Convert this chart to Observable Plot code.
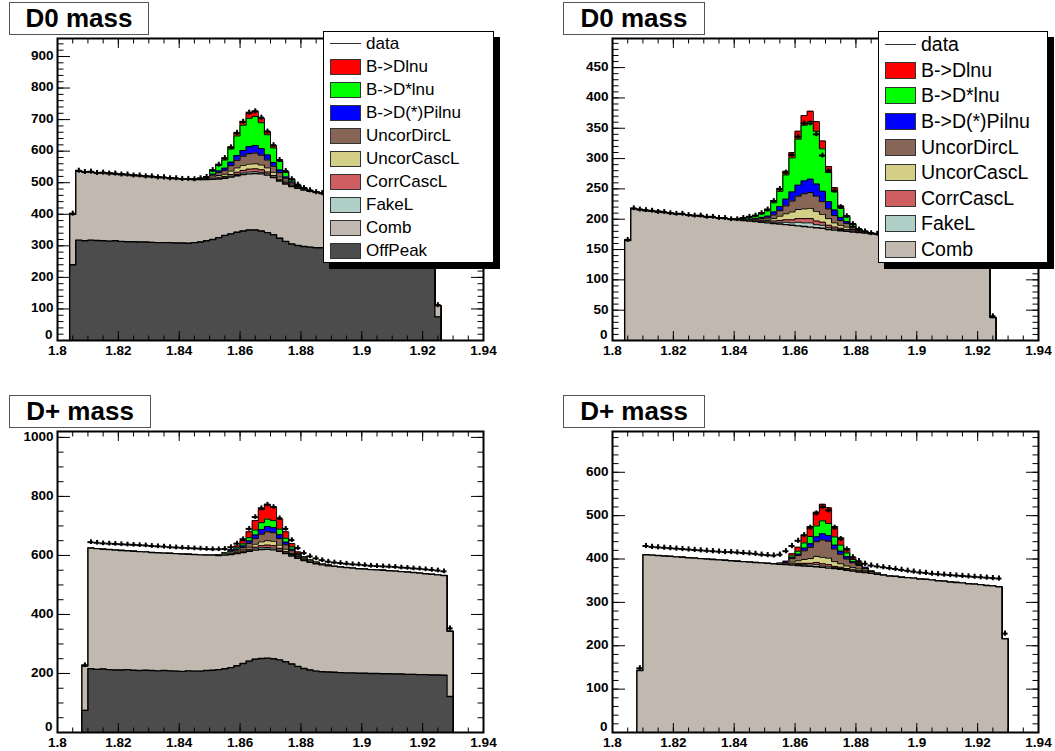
<!DOCTYPE html>
<html><head><meta charset="utf-8">
<script src="https://cdn.jsdelivr.net/npm/d3@7"></script>
<script src="https://cdn.jsdelivr.net/npm/@observablehq/plot@0.6"></script>
<style>
body{margin:0;background:#fff;font-family:"Liberation Sans",Arial,sans-serif;}
#wrap{position:relative;width:1055px;height:751px;overflow:hidden;background:#fff;}
.panel{position:absolute;}
.title{position:absolute;border:1px solid #555;background:#fff;font-weight:bold;font-size:26px;text-align:center;box-sizing:border-box;line-height:31px;z-index:3;}
.legend{position:absolute;border:1px solid #000;background:#fff;box-shadow:6px 6px 0 #000;box-sizing:border-box;display:flex;flex-direction:column;z-index:3;}
.legend .row{flex:1;display:flex;align-items:center;white-space:nowrap;}
.sw{width:31px;height:16px;border:1px solid #333;box-sizing:border-box;margin-left:6px;margin-right:5px;flex:none;}
.ln{width:31px;height:0;border-top:1px solid #333;margin-left:6px;margin-right:5px;flex:none;}
</style></head><body><div id="wrap"></div>
<script>
// ---------- shared axis data ----------
const xTicks = [1.8, 1.82, 1.84, 1.86, 1.88, 1.9, 1.92, 1.94];
const xTickLabels = ["1.8", "1.82", "1.84", "1.86", "1.88", "1.9", "1.92", "1.94"];
const xMinorStep = 0.005;
const binWidth = 0.002;
const d0Start = 1.804;
const dpStart = 1.808;

const legendNames = ["data", "B->Dlnu", "B->D*lnu", "B->D(*)Pilnu", "UncorDircL", "UncorCascL", "CorrCascL", "FakeL", "Comb", "OffPeak"];
const colors = {
  "B->Dlnu": "#ff0000", "B->D*lnu": "#00ff00", "B->D(*)Pilnu": "#0000ff",
  "UncorDircL": "#876657", "UncorCascL": "#d4cf87", "CorrCascL": "#cf5e61",
  "FakeL": "#b0cfc7", "Comb": "#c1b9af", "OffPeak": "#4c4c4c"
};

// ---------- Panel A: D0 mass (with OffPeak) ----------
const d0aOffPeak = [240,
 318,316,318,317,316, 315,316,314,313,313, 312,312,311,310,310, 310,309,309,308,310,
 312,316,320,326,333, 338,343,347,350,350, 347,342,335,324,314, 306,301,298,296,294,
 294,293,291,290,289, 288,287,287,286,286, 285,285,284,284,283, 283,282,282,281, 75];
const d0aComb = [160,
 219,219,216,215,215, 215,212,213,212,211, 210,209,208,208,206, 205,204,203,203,200,
 198,194,191,186,181, 180,179,179,178,179, 181,182,181,181,182, 182,181,179,177,176,
 172,170,170,169,168, 167,166,164,164,162, 162,160,160,158,158, 157,156,155,155, 36];
const d0aSigFrom = 20;
const d0aDlnu      = [0,0,1,2,3,4,6,9,12,15,17,15,11,8,5,3,2,1,0,0,0];
const d0aDstlnu    = [1,1,3,10,18,26,42,62,80,90,92,82,64,46,28,15,8,3,2,1,0];
const d0aDpilnu    = [0,0,1,3,5,7,11,15,18,22,24,21,16,12,8,4,3,1,1,0,0];
const d0aUncorDirc = [1,1,2,6,9,12,17,24,29,33,34,31,25,19,14,9,6,3,2,1,1];
const d0aUncorCasc = [0,1,1,4,6,7,11,14,16,16,16,15,13,10,7,5,3,2,1,0,0];
const d0aCorrCasc  = [0,0,0,2,3,4,5,7,8,9,9,8,6,5,4,3,1,1,1,0,0];
const d0aFake      = [0,0,0,1,2,2,3,4,5,6,6,5,4,2,2,1,1,0,0,0,0];
const d0aData = [402,
 538,534,535,531,532, 529,529,526,526,523, 523,520,520,517,517, 514,514,512,512,511,
 514,518,540,557,578, 612,658,693,722,726, 706,662,619,572,537, 511,494,483,476,470,
 467,463,462,458,458, 455,454,451,451,448, 448,445,445,442,442, 440,439,437,437, 112];
const d0aYTicks = [0,100,200,300,400,500,600,700,800,900];

// ---------- Panel B: D0 mass (no OffPeak) ----------
const d0bComb = [165,
 217,216,214,213,213, 211,210,209,208,207, 206,205,204,203,202, 201,200,199,198,197,
 196,195,194,193,192, 191,190,189,188,187, 186,185,183,182,181, 180,179,178,177,176,
 175,174,173,172,171, 170,169,168,167,166, 165,164,163,162,161, 160,159,158,157, 38];
const d0bSigFrom = 18;
const d0bDlnu      = [0,0,1,1,1,2,3,4,6,9,13,16,17,16,13,10,7,4,2,1,0,0,0];
const d0bDstlnu    = [1,2,3,4,6,9,15,25,40,56,76,92,95,87,70,48,30,15,8,4,2,1,0];
const d0bDpilnu    = [0,0,1,1,2,3,5,7,11,15,18,21,22,20,17,12,9,5,3,2,1,0,0];
const d0bUncorDirc = [1,1,1,2,3,4,6,9,13,18,22,25,26,25,21,16,12,8,6,3,1,1,1];
const d0bUncorCasc = [0,1,1,1,2,2,4,7,10,13,15,16,17,16,13,11,7,5,4,2,1,1,0];
const d0bCorrCasc  = [0,0,0,1,1,1,2,3,4,5,6,7,7,6,5,4,3,2,2,1,1,0,0];
const d0bFake      = [0,0,0,0,0,1,2,3,4,4,6,6,7,5,5,3,2,2,1,1,0,0,0];
const d0bData = [166,
 218,216,215,214,212, 212,210,209,209,207, 206,206,204,204,202, 202,200,200,202,204,
 206,210,216,230,250, 277,306,336,358,358, 340,305,280,247,220, 205,192,183,180,177,
 176,174,173,172,171, 170,169,168,167,166, 165,164,163,162,161, 160,159,158,157, 40];
const d0bYTicks = [0,50,100,150,200,250,300,350,400,450];

// ---------- Panel C: D+ mass (with OffPeak) ----------
const dpaOffPeak = [75,
 216,214,215,213,212, 212,213,211,210,211, 210,209,210,209,208, 207,209,208,208,210,
 211,213,216,220,226, 234,242,248,251,252, 250,246,240,232,224, 217,212,208,206,205,
 204,203,202,202,201, 201,200,200,199,199, 198,198,197,197,196, 196,195,195,194, 122];
const dpaComb = [150,
 409,409,406,407,406, 405,403,403,403,401, 400,400,398,398,398, 398,395,395,394,391,
 390,387,385,383,380, 376,372,370,369,369, 369,368,366,366,366, 366,365,364,362,360,
 359,358,357,355,354, 353,352,351,351,349, 349,347,347,345,344, 342,341,339,338, 221];
const dpaSigFrom = 22;
const dpaDlnu      = [0,1,3,6,11,20,32,44,50,47,35,22,11,5,2,1,1,0,0];
const dpaDstlnu    = [1,2,3,5,7,11,17,23,25,24,19,13,8,4,2,1,1,1,0];
const dpaDpilnu    = [0,1,2,3,5,8,12,16,18,17,13,9,5,2,1,1,0,0,0];
const dpaUncorDirc = [1,2,4,6,8,13,19,26,30,29,22,15,9,5,3,2,2,1,1];
const dpaUncorCasc = [1,1,2,3,4,7,10,13,15,15,11,8,4,3,2,1,1,1,1];
const dpaCorrCasc  = [0,1,1,2,3,4,6,7,8,8,6,4,3,2,2,1,1,1,1];
const dpaFake      = [0,1,2,1,2,3,4,6,6,6,4,3,2,1,1,1,0,0,0];
const dpaData = [228,
 645,643,641,640,639, 638,637,636,635,634, 632,631,630,628,627, 626,625,624,623,622,
 621,621,622,628,640, 655,690,730,760,772, 764,726,690,652,625, 608,597,590,584,579,
 576,574,572,570,569, 567,565,564,563,562, 561,559,558,556,555, 553,551,549,546, 353];
const dpaYTicks = [0,200,400,600,800,1000];

// ---------- Panel D: D+ mass (no OffPeak) ----------
const dpbComb = [143,
 410,409,408,407,406, 405,404,403,402,401, 400,399,398,397,396, 395,394,393,392,391,
 390,389,388,387,386, 385,384,383,382,381, 379,378,376,374,372, 370,369,367,365,363,
 361,360,358,357,356, 354,353,352,350,349, 347,346,345,343,342, 341,339,338,336, 216];
const dpbSigFrom = 22;
const dpbDlnu      = [0,0,1,5,9,17,23,32,38,36,24,17,10,5,3,1,1,0,0];
const dpbDstlnu    = [0,0,1,4,7,12,17,25,30,28,19,14,9,5,3,1,1,0,0];
const dpbDpilnu    = [0,0,1,2,3,6,8,11,14,13,9,7,5,3,2,1,0,0,0];
const dpbUncorDirc = [0,1,3,8,12,20,26,34,40,39,29,22,16,11,8,5,2,1,1];
const dpbUncorCasc = [0,1,1,4,6,9,11,14,15,15,11,8,6,5,4,3,1,1,0];
const dpbCorrCasc  = [0,0,1,2,3,3,4,5,5,5,3,3,2,2,2,1,1,1,0];
const dpbFake      = [0,0,0,1,2,3,3,5,3,3,2,2,2,1,1,0,0,0,0];
const dpbData = [148,
 430,428,427,426,425, 424,423,422,421,420, 419,418,417,416,416, 415,414,413,412,410,
 409,408,410,418,430, 442,455,472,505,520, 512,472,446,422,404, 395,389,385,383,381,
 379,377,375,373,371, 369,368,366,365,364, 363,362,361,360,359, 358,357,356,355, 228];
const dpbYTicks = [0,100,200,300,400,500,600];

// ---------- panel configs ----------
const panels = [
  {title: "D0 mass", left: 0, top: 0, width: 527, mL: 57, mR: 44, mT: 38, mB: 35,
   titleBox: [9, 2, 140, 33], legend: [323, 31, 171, 232], legendFont: 17,
   start: d0Start, offPeak: d0aOffPeak, comb: d0aComb, sigFrom: d0aSigFrom,
   sig: {"FakeL": d0aFake, "CorrCascL": d0aCorrCasc, "UncorCascL": d0aUncorCasc, "UncorDircL": d0aUncorDirc,
         "B->D(*)Pilnu": d0aDpilnu, "B->D*lnu": d0aDstlnu, "B->Dlnu": d0aDlnu},
   data: d0aData, err: 8, yMax: 957, yTicks: d0aYTicks, yMinor: 20},
  {title: "D0 mass", left: 527, top: 0, width: 528, mL: 85, mR: 17, mT: 38, mB: 35,
   titleBox: [563, 2, 142, 33], legend: [878, 31, 170, 232], legendFont: 19.5,
   start: d0Start, offPeak: null, comb: d0bComb, sigFrom: d0bSigFrom,
   sig: {"FakeL": d0bFake, "CorrCascL": d0bCorrCasc, "UncorCascL": d0bUncorCasc, "UncorDircL": d0bUncorDirc,
         "B->D(*)Pilnu": d0bDpilnu, "B->D*lnu": d0bDstlnu, "B->Dlnu": d0bDlnu},
   data: d0bData, err: 4, yMax: 498, yTicks: d0bYTicks, yMinor: 10},
  {title: "D+ mass", left: 0, top: 376, width: 527, mL: 57, mR: 44, mT: 55, mB: 19,
   titleBox: [9, 395, 142, 33], legend: null,
   start: dpStart, offPeak: dpaOffPeak, comb: dpaComb, sigFrom: dpaSigFrom,
   sig: {"FakeL": dpaFake, "CorrCascL": dpaCorrCasc, "UncorCascL": dpaUncorCasc, "UncorDircL": dpaUncorDirc,
         "B->D(*)Pilnu": dpaDpilnu, "B->D*lnu": dpaDstlnu, "B->Dlnu": dpaDlnu},
   data: dpaData, err: 8, yMax: 1020, yTicks: dpaYTicks, yMinor: 50},
  {title: "D+ mass", left: 527, top: 376, width: 528, mL: 85, mR: 17, mT: 55, mB: 19,
   titleBox: [563, 395, 142, 33], legend: null,
   start: dpStart, offPeak: null, comb: dpbComb, sigFrom: dpbSigFrom,
   sig: {"FakeL": dpbFake, "CorrCascL": dpbCorrCasc, "UncorCascL": dpbUncorCasc, "UncorDircL": dpbUncorDirc,
         "B->D(*)Pilnu": dpbDpilnu, "B->D*lnu": dpbDstlnu, "B->Dlnu": dpbDlnu},
   data: dpbData, err: 6, yMax: 694, yTicks: dpbYTicks, yMinor: 20}
];

function stepPts(start, vals) {
  const n = vals.length;
  const pts = [{x: start, y: 0}];
  vals.forEach((v, i) => pts.push({x: start + i * binWidth, y: v}));
  pts.push({x: start + n * binWidth, y: vals[n - 1]});
  pts.push({x: start + n * binWidth, y: 0});
  return pts;
}

const wrap = document.getElementById("wrap");
const xMinor = d3.range(1.8, 1.9401, xMinorStep);

panels.forEach(p => {
  const n = p.comb.length;
  const pad = arr => { const out = new Array(n).fill(0); arr.forEach((v, k) => out[p.sigFrom + k] = v); return out; };
  const comps = [];
  if (p.offPeak) comps.push(["OffPeak", p.offPeak]);
  comps.push(["Comb", p.comb]);
  ["FakeL", "CorrCascL", "UncorCascL", "UncorDircL", "B->D(*)Pilnu", "B->D*lnu", "B->Dlnu"]
    .forEach(name => comps.push([name, pad(p.sig[name])]));
  let cum = new Array(n).fill(0);
  const layers = comps.map(([name, vals]) => { cum = cum.map((c, i) => c + vals[i]); return {name, top: cum}; });

  const marks = [];
  layers.slice().reverse().forEach(L => {
    const pts = stepPts(p.start, L.top);
    marks.push(Plot.areaY(pts, {x: "x", y1: 0, y2: "y", curve: "step-after", fill: colors[L.name]}));
    marks.push(Plot.line(pts, {x: "x", y: "y", curve: "step-after", stroke: "#000",
      strokeWidth: (L.name === "Comb" || L.name === "OffPeak") ? 1.4 : 1}));
  });

  const dataPts = p.data.map((v, i) => ({
    x1: p.start + i * binWidth, x2: p.start + (i + 1) * binWidth,
    xc: p.start + (i + 0.5) * binWidth, y: v
  })).filter(d => d.y > 0);
  marks.push(Plot.ruleY(dataPts, {y: "y", x1: "x1", x2: "x2", stroke: "#000", strokeWidth: 2}));
  marks.push(Plot.ruleX(dataPts, {x: "xc", y1: d => d.y - p.err, y2: d => d.y + p.err, stroke: "#000", strokeWidth: 2}));

  const yMinorTicks = d3.range(0, p.yMax, p.yMinor);
  const yLong = 13, yShort = 6.5, xLong = 9, xShort = 4.5;
  const labelStyle = {fontSize: 13.5, fontWeight: "bold"};
  marks.push(
    Plot.axisX(xTicks, {anchor: "bottom", tickSize: xLong, dy: -xLong, fill: "none", strokeWidth: 1}),
    Plot.axisX(xMinor, {anchor: "bottom", tickSize: xShort, dy: -xShort, fill: "none", strokeWidth: 1}),
    Plot.axisX(xTicks, {anchor: "top", tickSize: xLong, dy: xLong, fill: "none", strokeWidth: 1}),
    Plot.axisX(xMinor, {anchor: "top", tickSize: xShort, dy: xShort, fill: "none", strokeWidth: 1}),
    Plot.axisX(xTicks, {anchor: "bottom", tickSize: 0, tickPadding: 5, ...labelStyle,
      tickFormat: d => xTickLabels[xTicks.indexOf(d)]}),
    Plot.axisY(p.yTicks, {anchor: "left", tickSize: yLong, dx: yLong, fill: "none", strokeWidth: 1}),
    Plot.axisY(yMinorTicks, {anchor: "left", tickSize: yShort, dx: yShort, fill: "none", strokeWidth: 1}),
    Plot.axisY(p.yTicks, {anchor: "right", tickSize: yLong, dx: -yLong, fill: "none", strokeWidth: 1}),
    Plot.axisY(yMinorTicks, {anchor: "right", tickSize: yShort, dx: -yShort, fill: "none", strokeWidth: 1}),
    Plot.axisY(p.yTicks.filter(d => d !== 0), {anchor: "left", tickSize: 0, tickPadding: 4, dy: -1, ...labelStyle,
      tickFormat: d => String(d)}),
    Plot.axisY([0], {anchor: "left", tickSize: 0, tickPadding: 5, dy: -6, ...labelStyle,
      tickFormat: d => String(d)}),
    Plot.frame({stroke: "#000", strokeWidth: 2})
  );

  const chart = Plot.plot({
    width: p.width, height: 375,
    marginLeft: p.mL, marginRight: p.mR, marginTop: p.mT, marginBottom: p.mB,
    x: {domain: [1.8, 1.94], label: null},
    y: {domain: [0, p.yMax], label: null},
    style: {fontFamily: "'Liberation Sans', Arial, sans-serif", color: "#000", background: "transparent", overflow: "visible"},
    marks
  });
  const holder = document.createElement("div");
  holder.className = "panel";
  holder.style.left = p.left + "px";
  holder.style.top = p.top + "px";
  holder.appendChild(chart);
  wrap.appendChild(holder);

  const t = document.createElement("div");
  t.className = "title";
  const [tl, tt, tw, th] = p.titleBox;
  Object.assign(t.style, {left: tl + "px", top: tt + "px", width: tw + "px", height: th + "px"});
  t.textContent = p.title;
  wrap.appendChild(t);

  if (p.legend) {
    const [ll, lt, lw, lh] = p.legend;
    const lg = document.createElement("div");
    lg.className = "legend";
    Object.assign(lg.style, {left: ll + "px", top: lt + "px", width: lw + "px", height: lh + "px", fontSize: p.legendFont + "px"});
    legendNames.filter(nm => nm !== "OffPeak" || p.offPeak).forEach(nm => {
      const row = document.createElement("div");
      row.className = "row";
      const sym = document.createElement("span");
      if (nm === "data") sym.className = "ln";
      else { sym.className = "sw"; sym.style.background = colors[nm]; if (!p.offPeak) sym.style.height = "17px"; }
      row.appendChild(sym);
      const lab = document.createElement("span");
      lab.textContent = nm;
      row.appendChild(lab);
      lg.appendChild(row);
    });
    wrap.appendChild(lg);
  }
});
</script></body></html>
